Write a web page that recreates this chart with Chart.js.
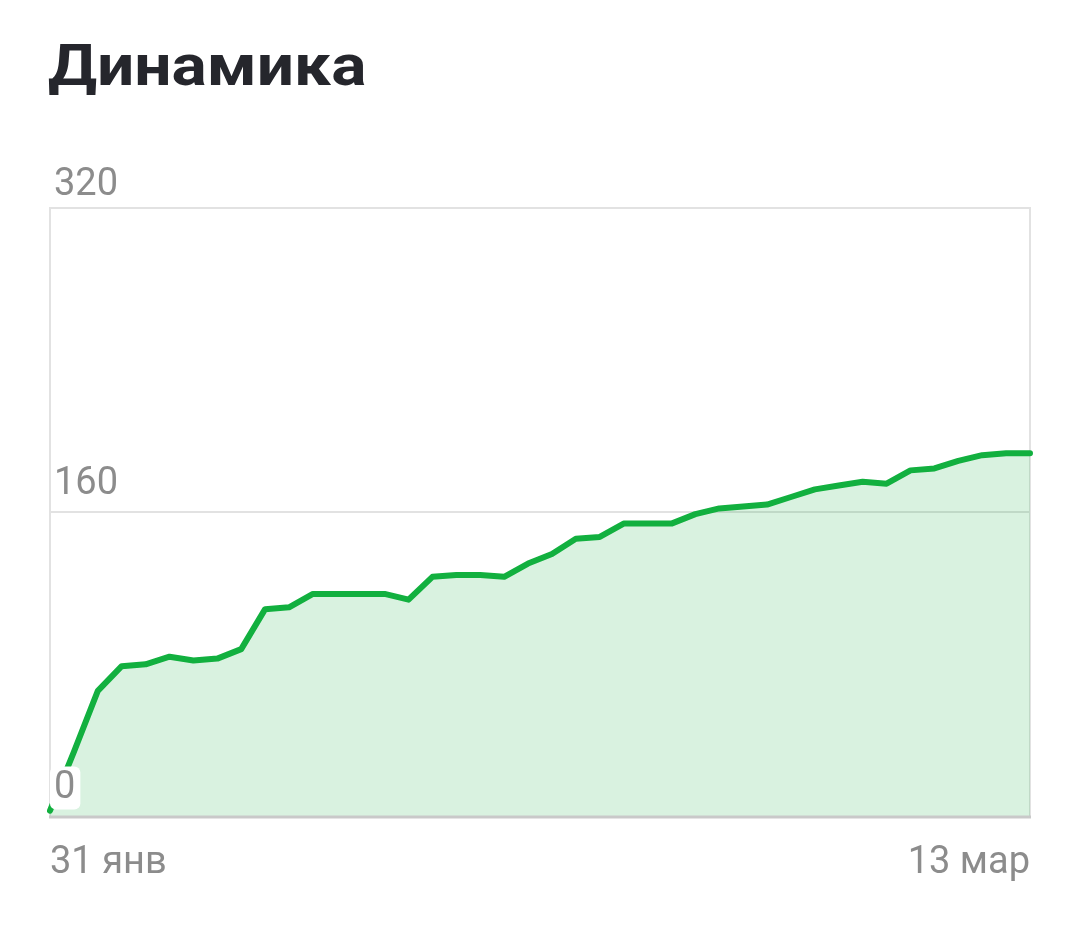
<!DOCTYPE html>
<html>
<head>
<meta charset="utf-8">
<script src="https://cdn.jsdelivr.net/npm/chart.js@4.4.1/dist/chart.umd.min.js"></script>
<style>
  html, body { margin: 0; padding: 0; background: #ffffff; }
  body { width: 1074px; height: 948px; position: relative; overflow: hidden; font-family: Roboto, "Noto Sans", sans-serif; }
  h1 { position: absolute; left: 48px; top: 37px; margin: 0; font-size: 57px; line-height: 1; font-weight: 700; color: #25262c; transform: scaleX(1.155); transform-origin: 0 0; white-space: nowrap; }
  #wrap { position: absolute; left: 0; top: 0; width: 1074px; height: 948px; }
</style>
</head>
<body>
<h1>Динамика</h1>
<div id="wrap"><canvas id="c" width="1074" height="948"></canvas></div>
<script>
const dates = [
  '31 янв',
  '1 фев','2 фев','3 фев','4 фев','5 фев','6 фев','7 фев','8 фев','9 фев','10 фев',
  '11 фев','12 фев','13 фев','14 фев','15 фев','16 фев','17 фев','18 фев','19 фев','20 фев',
  '21 фев','22 фев','23 фев','24 фев','25 фев','26 фев','27 фев','28 фев',
  '1 мар','2 мар','3 мар','4 мар','5 мар','6 мар','7 мар','8 мар','9 мар','10 мар',
  '11 мар','12 мар','13 мар'
];
const values = [
  3, 34, 66, 79, 80, 84, 82, 83, 88, 109,
  110, 117, 117, 117, 117, 114, 126, 127, 127, 126,
  133, 138, 146, 147, 154, 154, 154, 159, 162, 163,
  164, 168, 172, 174, 176, 175, 182, 183, 187, 190,
  191, 191
];
const yTickValues = [0, 160, 320];
const yMin = 0, yMax = 320;

const LINE = '#12b03f';
const FILL = 'rgba(18,176,63,0.16)';
const LABEL = '#8c8c8c';
const FONT = 'Roboto, "Noto Sans", sans-serif';

const frame = {
  id: 'frame',
  beforeDatasetsDraw(chart) {
    const {ctx, chartArea: a} = chart;
    ctx.save();
    ctx.strokeStyle = '#e2e2e2';
    ctx.lineWidth = 2;
    ctx.beginPath();
    ctx.moveTo(a.left, a.bottom); ctx.lineTo(a.left, a.top);
    ctx.lineTo(a.right, a.top); ctx.lineTo(a.right, a.bottom);
    ctx.stroke();
    ctx.restore();
  },
  afterDatasetsDraw(chart) {
    const {ctx, chartArea: a, scales} = chart;
    const y = scales.y;
    ctx.save();
    ctx.strokeStyle = '#c9c9c9';
    ctx.lineWidth = 3;
    ctx.beginPath();
    ctx.moveTo(a.left - 1, y.getPixelForValue(0) + 0.5);
    ctx.lineTo(a.right + 1, y.getPixelForValue(0) + 0.5);
    ctx.stroke();
    ctx.font = '38px ' + FONT;
    ctx.textAlign = 'left';
    ctx.textBaseline = 'middle';
    y.ticks.forEach(t => {
      const off = t.value === yMax ? 24 : 29;
      const py = y.getPixelForValue(t.value) - off;
      const label = String(t.value);
      if (t.value === 0) {
        const w = ctx.measureText(label).width;
        ctx.fillStyle = '#ffffff';
        ctx.beginPath();
        ctx.roundRect(a.left, py - 21, w + 9, 43, 6);
        ctx.fill();
      }
      ctx.fillStyle = LABEL;
      ctx.fillText(label, a.left + 4, py + 1);
    });
    ctx.restore();
  }
};

new Chart(document.getElementById('c'), {
  type: 'line',
  data: {
    labels: dates,
    datasets: [{
      data: values,
      borderColor: LINE,
      borderWidth: 6,
      backgroundColor: FILL,
      fill: 'origin',
      tension: 0,
      pointRadius: 0,
      pointHoverRadius: 0,
      borderJoinStyle: 'round',
      borderCapStyle: 'round'
    }]
  },
  options: {
    responsive: false,
    animation: false,
    events: [],
    layout: { padding: { left: 50, right: 44, top: 208, bottom: 38 } },
    plugins: { legend: { display: false }, tooltip: { enabled: false }, title: { display: false } },
    scales: {
      x: {
        grid: { display: false, drawTicks: false },
        border: { display: false },
        ticks: {
          autoSkip: false,
          maxRotation: 0,
          minRotation: 0,
          align: 'inner',
          padding: 24,
          color: LABEL,
          font: { family: FONT, size: 38 },
          callback: function (v, i, arr) {
            return (i === 0 || i === arr.length - 1) ? this.getLabelForValue(v) : '';
          }
        }
      },
      y: {
        min: yMin,
        max: yMax,
        afterBuildTicks: s => { s.ticks = yTickValues.map(v => ({ value: v })); },
        grid: {
          color: c => (c.tick && c.tick.value === 0) ? 'rgba(0,0,0,0)' : '#e2e2e2',
          lineWidth: 2,
          drawTicks: false
        },
        border: { display: false },
        ticks: { display: false }
      }
    }
  },
  plugins: [frame]
});
</script>
</body>
</html>
